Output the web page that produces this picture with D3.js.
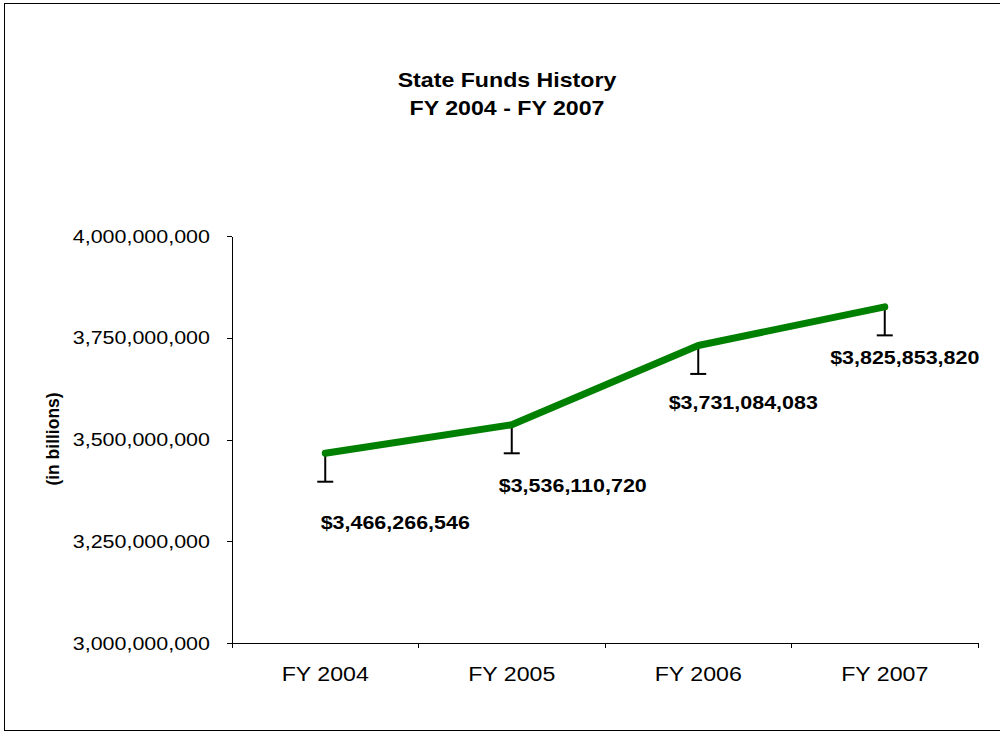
<!DOCTYPE html>
<html>
<head>
<meta charset="utf-8">
<script src="https://cdn.jsdelivr.net/npm/d3@7"></script>
<style>
  body { margin: 0; background: #fff; }
  svg { display: block; font-family: "Liberation Sans", Arial, sans-serif; }
  .axis text { fill: #000; }
  .axis path, .axis line { stroke: #000; stroke-width: 1; shape-rendering: crispEdges; }
</style>
</head>
<body>
<svg id="chart"></svg>
<script>
// Data
const years = ['FY 2004', 'FY 2005', 'FY 2006', 'FY 2007'];
const funds = [3466266546, 3536110720, 3731084083, 3825853820];
const errorDown = [70000000, 70000000, 70000000, 70000000];
const yTicks = [3000000000, 3250000000, 3500000000, 3750000000, 4000000000];
// Label placement (manual in the original)
const labelOffsets = [[70, 76], [61, 67], [45, 64], [20, 57]];

const width = 1000, height = 732;
const margin = { top: 236, right: 22, bottom: 89, left: 232 };
const innerW = width - margin.left - margin.right;
const innerH = height - margin.top - margin.bottom;
// the original text is a little wide for its height
const SX = 1.13;

// move x/y into a transform so the text can be widened around its anchor
function stretch(sel) {
  sel.each(function() {
    const t = d3.select(this);
    const tx = +t.attr('x') || 0, ty = +t.attr('y') || 0;
    t.attr('transform', `translate(${tx},${ty}) scale(${SX},1)`)
      .attr('x', 0).attr('y', 0);
  });
}

const svg = d3.select('#chart')
  .attr('width', width)
  .attr('height', height);

// outer frame
svg.append('rect')
  .attr('x', 4.5).attr('y', 3.5)
  .attr('width', 1000).attr('height', 727)
  .attr('fill', 'none')
  .attr('stroke', '#000');

const chart = svg.append('g')
  .attr('transform', `translate(${margin.left},${margin.top})`);

const x = d3.scaleBand().domain(years).range([0, innerW]);
const y = d3.scaleLinear().domain([3000000000, 4000000000]).range([innerH, 0]);

// y axis
const yAxisG = chart.append('g')
  .attr('class', 'axis y-axis')
  .call(d3.axisLeft(y).tickValues(yTicks).tickSize(5).tickSizeOuter(0)
    .tickPadding(17).tickFormat(d3.format(',')));
yAxisG.selectAll('text').style('font-size', '19px').call(stretch);

// x axis, ticks at category boundaries
const xAxisG = chart.append('g')
  .attr('class', 'axis x-axis')
  .attr('transform', `translate(0,${innerH})`)
  .call(d3.axisBottom(x).tickSize(0).tickSizeOuter(0).tickPadding(23));
xAxisG.selectAll('text').style('font-size', '20.5px').call(stretch);
xAxisG.selectAll('.bound')
  .data(years)
  .join('line')
  .attr('class', 'bound')
  .attr('x1', d => x(d) + x.bandwidth())
  .attr('x2', d => x(d) + x.bandwidth())
  .attr('y1', 0).attr('y2', 5);
xAxisG.append('line')
  .attr('x1', 0).attr('x2', 0).attr('y1', 0).attr('y2', 5);

const cx = d => x(d) + x.bandwidth() / 2;

// error bars (minus only)
const eb = chart.selectAll('.err')
  .data(years)
  .join('g')
  .attr('class', 'err');
eb.append('line')
  .attr('x1', d => cx(d)).attr('x2', d => cx(d))
  .attr('y1', (d, i) => y(funds[i]))
  .attr('y2', (d, i) => y(funds[i] - errorDown[i]))
  .attr('stroke', '#000').attr('stroke-width', 2);
eb.append('line')
  .attr('x1', d => cx(d) - 8).attr('x2', d => cx(d) + 8)
  .attr('y1', (d, i) => y(funds[i] - errorDown[i]))
  .attr('y2', (d, i) => y(funds[i] - errorDown[i]))
  .attr('stroke', '#000').attr('stroke-width', 2);

// line
const line = d3.line()
  .x((d, i) => cx(years[i]))
  .y(d => y(d));
chart.append('path')
  .datum(funds)
  .attr('d', line)
  .attr('fill', 'none')
  .attr('stroke', '#008000')
  .attr('stroke-width', 7)
  .attr('stroke-linecap', 'round')
  .attr('stroke-linejoin', 'round');

// data labels
chart.selectAll('.lbl')
  .data(funds)
  .join('text')
  .attr('class', 'lbl')
  .attr('x', (d, i) => cx(years[i]) + labelOffsets[i][0])
  .attr('y', (d, i) => y(d) + labelOffsets[i][1])
  .attr('text-anchor', 'middle')
  .style('font-size', '19px')
  .style('font-weight', 'bold')
  .text(d => '$' + d3.format(',')(d))
  .call(stretch);

// title
svg.selectAll('.title')
  .data(['State Funds History', 'FY 2004 - FY 2007'])
  .join('text')
  .attr('class', 'title')
  .attr('x', 507)
  .attr('y', (d, i) => 87 + i * 28)
  .attr('text-anchor', 'middle')
  .style('font-size', '20.5px')
  .style('font-weight', 'bold')
  .text(d => d)
  .call(stretch);

// y axis title
svg.append('text')
  .attr('transform', 'translate(59,439) rotate(-90) scale(1,1.1)')
  .attr('text-anchor', 'middle')
  .style('font-size', '17.5px')
  .style('font-weight', 'bold')
  .text('(in billions)');
</script>
</body>
</html>
